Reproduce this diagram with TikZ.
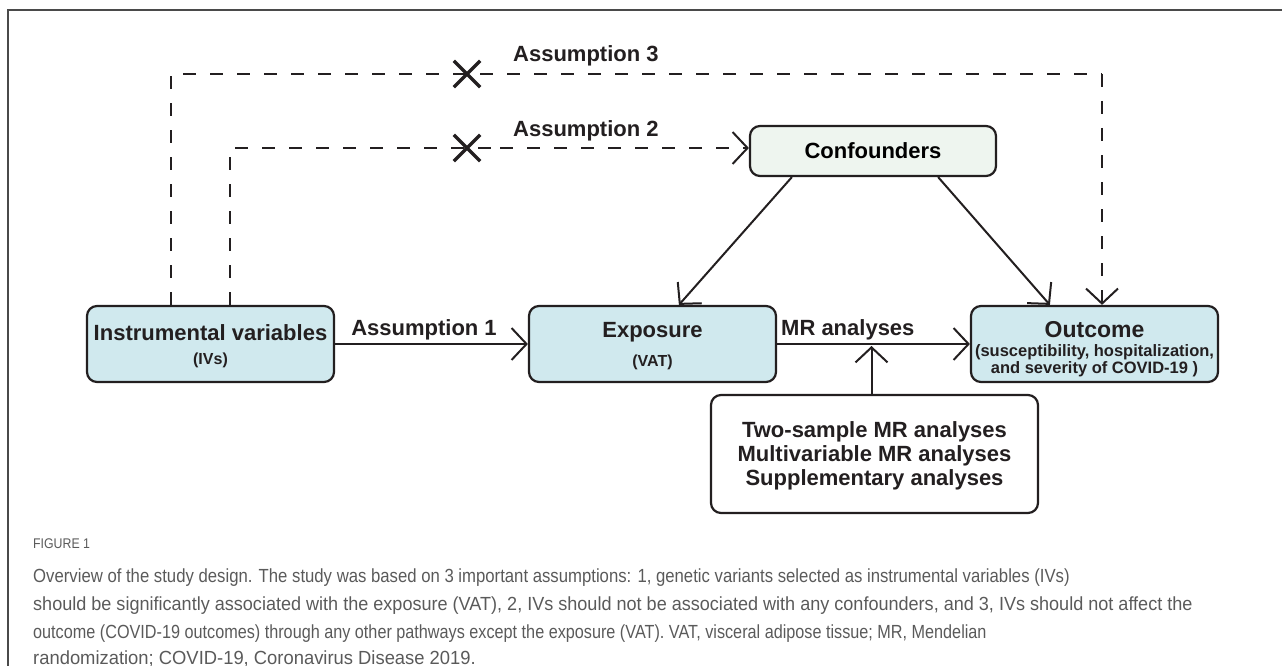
\documentclass[tikz,border=0pt]{standalone}
\usepackage{fontspec}
\setmainfont{Liberation Sans}
\newfontfamily\capfont[FakeStretch=0.88]{Liberation Sans}
\usetikzlibrary{arrows.meta}
\definecolor{ink}{HTML}{231F20}
\definecolor{boxblue}{HTML}{D0E9EE}
\definecolor{boxgreen}{HTML}{EEF5EF}
\definecolor{capgray}{HTML}{5A5A5A}
\definecolor{framegray}{HTML}{4A4A4A}
\tikzset{
  x=1pt,y=-1pt,
  box/.style={draw=ink,line width=2.2pt,rounded corners=10pt,align=center,font=\bfseries,inner sep=0pt},
  boxtext/.style={align=center,font=\bfseries,text=ink,inner sep=0pt},
  conn/.style={draw=ink,line width=2pt,-{Straight Barb[length=15pt,width=32pt,line width=2pt]}},
  dconn/.style={conn,dash pattern=on 13pt off 14pt},
  dline/.style={draw=ink,line width=2pt,dash pattern=on 13pt off 14pt},
  xmark/.style={draw=ink,line width=3.2pt},
  lbl/.style={font=\bfseries\fontsize{22}{24}\selectfont,text=ink,inner sep=0pt},
  capline/.style={anchor=base west,inner sep=0pt,text=capgray,font=\capfont\fontsize{19}{22}\selectfont}
}
\begin{document}
\begin{tikzpicture}
\useasboundingbox (0,0) rectangle (1282,666);
% frame
\draw[framegray,line width=2pt] (8,666) -- (8,10) -- (1282,10);
% boxes
\node[box,fill=boxblue,minimum width=247pt,minimum height=76pt] (iv) at (210.5,344) {};
\node[boxtext] (ivtext) at ([yshift=-2pt]iv.center)
  {\fontsize{22}{24}\selectfont Instrumental variables\\[12pt]\fontsize{16}{17}\selectfont (IVs)};
\node[box,fill=boxblue,minimum width=247pt,minimum height=76pt] (exp) at (652.5,344) {};
\node[boxtext] (exptext) at ([yshift=-2pt]exp.center)
  {\fontsize{22}{24}\selectfont Exposure\\[12pt]\fontsize{16}{17}\selectfont (VAT)};
\node[box,fill=boxblue,minimum width=247pt,minimum height=76pt] (out) at (1094.5,344) {};
\node[boxtext] (outtext) at ([yshift=-5pt]out.center)
  {\fontsize{23}{15.5}\selectfont Outcome\\[6pt]\fontsize{16.5}{15.5}\selectfont (susceptibility, hospitalization,\\\fontsize{16.5}{15.5}\selectfont and severity of COVID-19 )};
\node[box,fill=boxgreen,minimum width=246pt,minimum height=50pt] (conf) at (873,151)
  {\fontsize{22}{24}\selectfont Confounders};
\node[box,fill=white,minimum width=327pt,minimum height=118pt] (ana) at (874.5,454) {};
\node[boxtext,font=\bfseries\fontsize{22}{24}\selectfont] (anatext) at ([yshift=-2pt]ana.center)
  {Two-sample MR analyses\\Multivariable MR analyses\\Supplementary analyses};
% solid connectors
\draw[conn] (iv.east) -- (exp.west);
\draw[conn] (exp.east) -- (out.west);
\draw[conn] ([xshift=43pt]conf.south west) -- ([xshift=151pt]exp.north west);
\draw[conn] ([xshift=-59pt]conf.south east) -- ([xshift=80pt]out.north west);
\coordinate (up) at (871.5,346);
\draw[conn] (ana.north -| up) -- (up);
% labels
\node[lbl,anchor=base] (a1) at (424,335) {Assumption 1};
\node[lbl,anchor=base west] (mr) at (781,335) {MR analyses};
% assumption 2
\coordinate (a2) at (230,148);
\coordinate (a2m) at (500,148);
\draw[dline] (iv.north -| a2) -- (a2) -- (a2m);
\draw[dconn] (a2m) -- (conf.west |- a2);
\node[lbl,anchor=base west] (l2) at (513,136) {Assumption 2};
% assumption 3
\coordinate (a3) at (171,74);
\coordinate (a3r) at (1102,74);
\draw[dline] (iv.north -| a3) -- (a3) -- (a3r);
\draw[dconn] (a3r) -- (out.north -| a3r);
\node[lbl,anchor=base west] (l3) at (513,62) {Assumption 3};
% crosses
\node[inner sep=0pt,minimum size=26pt] (x2) at (467,148) {};
\draw[xmark] (x2.north west) -- (x2.south east) (x2.north east) -- (x2.south west);
\node[inner sep=0pt,minimum size=26pt] (x3) at (467,74) {};
\draw[xmark] (x3.north west) -- (x3.south east) (x3.north east) -- (x3.south west);
% caption
\node[capline,font=\capfont\fontsize{14}{16}\selectfont] (fig) at (33,548) {FIGURE 1};
\node[capline] (c1) at (33,582) {\scalebox{1.0}[1]{Overview of the study design. The study was based on 3 important assumptions: 1, genetic variants selected as instrumental variables (IVs)}};
\node[capline] (c2) at (33,610) {\scalebox{1.08}[1]{should be significantly associated with the exposure (VAT), 2, IVs should not be associated with any confounders, and 3, IVs should not affect the}};
\node[capline] (c3) at (33,638) {\scalebox{0.97}[1]{outcome (COVID-19 outcomes) through any other pathways except the exposure (VAT). VAT, visceral adipose tissue; MR, Mendelian}};
\node[capline] (c4) at (33,664) {\scalebox{1.1}[1]{randomization; COVID-19, Coronavirus Disease 2019.}};
\end{tikzpicture}
\end{document}
